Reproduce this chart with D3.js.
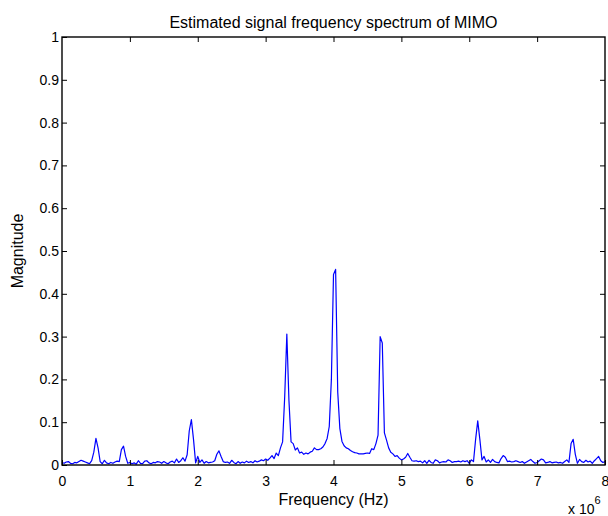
<!DOCTYPE html>
<html>
<head>
<meta charset="utf-8">
<script src="https://cdn.jsdelivr.net/npm/d3@7/dist/d3.min.js"></script>
<style>
  body { margin: 0; background: #fff; }
  svg { display: block; }
  text { font-family: "Liberation Sans", Arial, Helvetica, sans-serif; }
</style>
</head>
<body>
<svg id="chart" width="608" height="516"></svg>
<script>
// Frequency grid step in MHz (x 10^6 Hz)
const freqStepMHz = 0.03125;
// Magnitude samples, one per grid step from 0 to 8 MHz
const magnitude = [
  0.006,0.004,0.007,0.008,0.004,0.003,0.006,0.005,0.008,0.011,0.009,0.007,0.005,0.003,0.010,0.030,
  0.062,0.040,0.008,0.003,0.011,0.005,0.003,0.006,0.004,0.007,0.009,0.008,0.036,0.044,0.020,0.004,
  0.006,0.003,0.005,0.002,0.010,0.004,0.003,0.009,0.010,0.005,0.003,0.006,0.005,0.008,0.007,0.004,
  0.008,0.005,0.003,0.007,0.009,0.005,0.014,0.006,0.010,0.017,0.009,0.024,0.080,0.106,0.060,0.005,
  0.020,0.006,0.012,0.004,0.008,0.005,0.006,0.007,0.010,0.025,0.033,0.020,0.008,0.006,0.007,0.004,
  0.011,0.006,0.003,0.008,0.004,0.007,0.005,0.009,0.006,0.008,0.005,0.010,0.007,0.009,0.012,0.010,
  0.014,0.011,0.016,0.022,0.015,0.028,0.022,0.040,0.054,0.160,0.306,0.150,0.054,0.050,0.035,0.040,
  0.028,0.030,0.025,0.028,0.026,0.030,0.032,0.040,0.036,0.036,0.038,0.042,0.050,0.062,0.090,0.200,
  0.445,0.457,0.170,0.085,0.055,0.045,0.040,0.038,0.034,0.031,0.029,0.028,0.026,0.026,0.026,0.027,
  0.028,0.027,0.038,0.036,0.050,0.070,0.300,0.285,0.075,0.058,0.040,0.030,0.026,0.020,0.022,0.016,
  0.012,0.014,0.018,0.027,0.018,0.010,0.009,0.010,0.008,0.009,0.005,0.010,0.004,0.011,0.006,0.004,
  0.012,0.010,0.005,0.007,0.008,0.007,0.012,0.010,0.006,0.008,0.008,0.009,0.007,0.010,0.008,0.010,
  0.004,0.012,0.008,0.060,0.103,0.060,0.012,0.020,0.007,0.012,0.006,0.013,0.008,0.006,0.005,0.015,
  0.022,0.018,0.008,0.009,0.007,0.008,0.010,0.008,0.006,0.008,0.004,0.007,0.010,0.013,0.008,0.004,
  0.006,0.010,0.014,0.012,0.005,0.006,0.008,0.005,0.006,0.007,0.005,0.006,0.004,0.008,0.012,0.006,
  0.050,0.060,0.025,0.004,0.013,0.008,0.006,0.011,0.007,0.009,0.004,0.010,0.015,0.020,0.010,0.006,
  0.008
];
const xTicks = [0,1,2,3,4,5,6,7,8];
const yTicks = [0,0.1,0.2,0.3,0.4,0.5,0.6,0.7,0.8,0.9,1];
const yTickLabels = ["0","0.1","0.2","0.3","0.4","0.5","0.6","0.7","0.8","0.9","1"];
const titleText = "Estimated signal frequency spectrum of MIMO";
const xLabel = "Frequency (Hz)";
const yLabel = "Magnitude";

const svg = d3.select("#chart");
const L = 62, R = 605, T = 37, B = 465;
const x = d3.scaleLinear().domain([0, 8]).range([L, R]);
const y = d3.scaleLinear().domain([0, 1]).range([B, T]);

const data = magnitude.map((m, i) => ({f: i * freqStepMHz, m}));

// line
svg.append("path")
  .datum(data)
  .attr("fill", "none")
  .attr("stroke", "#0000ff")
  .attr("stroke-width", 1.2)
  .attr("stroke-linejoin", "round")
  .attr("d", d3.line().x(d => x(d.f)).y(d => y(d.m)));

const tickLen = 5;
const axisStyle = g => {
  g.select(".domain").remove();
  g.selectAll(".tick line").attr("stroke", "#000");
  g.selectAll(".tick text").attr("fill", "#000").style("font-size", "14px")
    .style("font-family", '"Liberation Sans", Arial, sans-serif');
};

// bottom
svg.append("g").attr("transform", `translate(0,${B})`)
  .call(d3.axisBottom(x).tickValues(xTicks).tickFormat(d3.format("d"))
        .tickSizeInner(-tickLen).tickSizeOuter(0).tickPadding(11))
  .call(axisStyle);
// top (ticks only)
svg.append("g").attr("transform", `translate(0,${T})`)
  .call(d3.axisTop(x).tickValues(xTicks.slice(1, -1)).tickFormat("")
        .tickSizeInner(-tickLen).tickSizeOuter(0))
  .call(axisStyle);
// left
svg.append("g").attr("transform", `translate(${L},0)`)
  .call(d3.axisLeft(y).tickValues(yTicks).tickFormat((d, i) => yTickLabels[i])
        .tickSizeInner(-tickLen).tickSizeOuter(0).tickPadding(3))
  .call(axisStyle);
// right (ticks only)
svg.append("g").attr("transform", `translate(${R},0)`)
  .call(d3.axisRight(y).tickValues(yTicks.slice(1, -1)).tickFormat("")
        .tickSizeInner(-tickLen).tickSizeOuter(0))
  .call(axisStyle);

// box
svg.append("rect")
  .attr("x", L).attr("y", T).attr("width", R - L).attr("height", B - T)
  .attr("fill", "none").attr("stroke", "#000").attr("stroke-width", 1.4);

// title
svg.append("text").attr("x", (L + R) / 2).attr("y", 28)
  .attr("text-anchor", "middle").style("font-size", "16px").text(titleText);
// x label
svg.append("text").attr("x", (L + R) / 2).attr("y", 505)
  .attr("text-anchor", "middle").style("font-size", "16px").text(xLabel);
// y label
svg.append("text").attr("transform", `translate(23,${(T + B) / 2}) rotate(-90)`)
  .attr("text-anchor", "middle").style("font-size", "16px").text(yLabel);
// exponent
const ex = svg.append("text").attr("x", 568).attr("y", 514).style("font-size", "14px");
ex.append("tspan").text("x 10");
ex.append("tspan").attr("dy", -10).style("font-size", "11px").text("6");
</script>
</body>
</html>
